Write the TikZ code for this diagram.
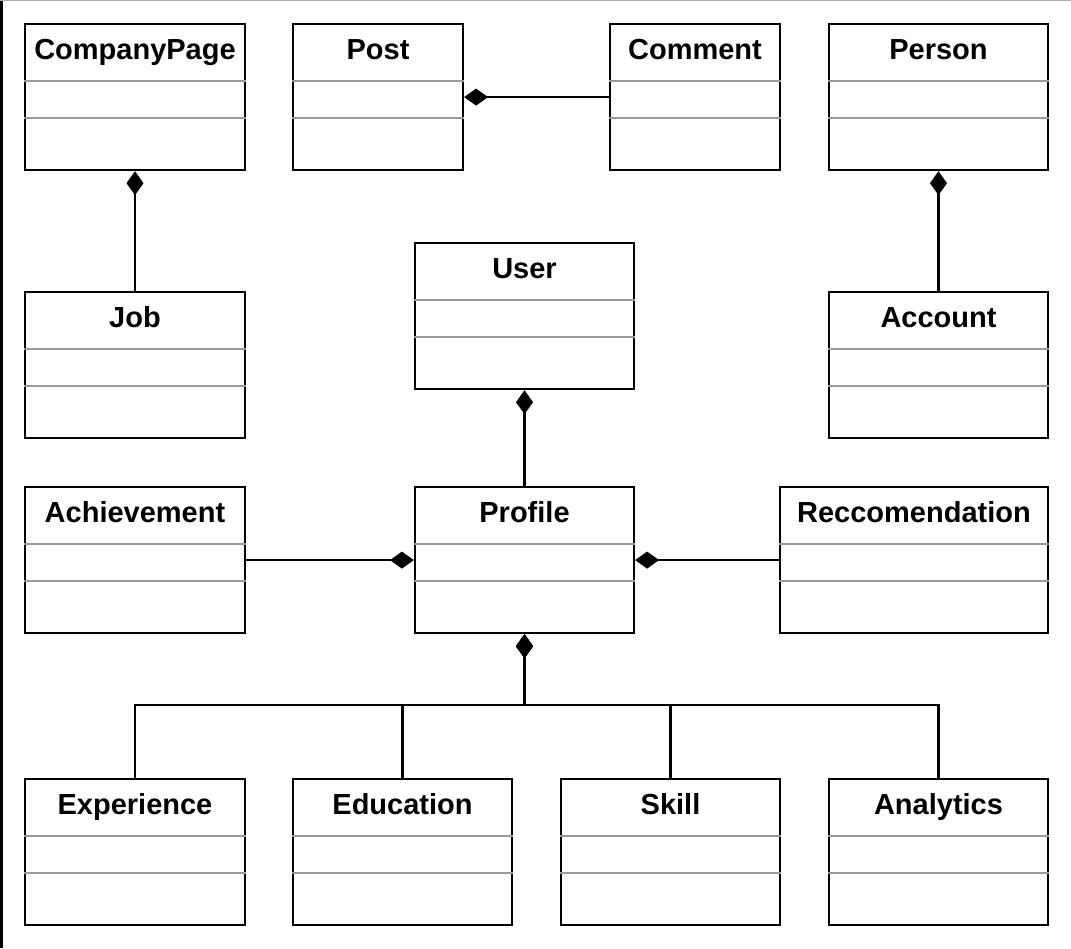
\documentclass[tikz,border=0pt]{standalone}
\usepackage{fontspec}
\setmainfont{Liberation Sans}
\usepackage{tikz}
\usetikzlibrary{arrows.meta}
\usetikzlibrary{calc}
\usetikzlibrary{positioning}

\tikzset{
  classbox/.style={draw, line width=1.1pt, fill=white, inner sep=0pt,
    minimum height=73pt, anchor=north},
  classtitle/.style={font=\fontsize{14.5}{17}\selectfont\bfseries, inner sep=0pt, anchor=base},
  compline/.style={draw=gray!80, line width=1pt},
  comp/.style={line width=1.1pt, {Diamond[length=12pt, width=8.5pt]}-{}},
}

\begin{document}
\begin{tikzpicture}[x=0.5pt, y=-0.5pt]
    \useasboundingbox (0,0) rectangle (1071,948);
    % frame edges
    \draw [line width=1.5pt] (1.5,0) -- (1.5,948);
    \draw [gray!60, line width=0.5pt] (0,0.5) -- (1071,0.5);

    % classes
    \foreach \n/\t/\cx/\top/\w in {
        companypage/CompanyPage/135/23/220,
        post/Post/378/23/170,
        comment/Comment/695/23/170,
        person/Person/938.5/23/219,
        job/Job/135/291/220,
        user/User/524.5/242/219,
        account/Account/938.5/291/219,
        achievement/Achievement/135/486/220,
        profile/Profile/524.5/486/219,
        reccomendation/Reccomendation/914/486/268,
        experience/Experience/135/778/220,
        education/Education/402.5/778/219,
        skill/Skill/670.5/778/219,
        analytics/Analytics/938.5/778/219} {
      \node [classbox, minimum width=\w*0.5pt] (\n) at (\cx,\top) {};
      \draw [compline] ([yshift=-29pt]\n.north west) -- ([yshift=-29pt]\n.north east);
      \draw [compline] ([yshift=-47.5pt]\n.north west) -- ([yshift=-47.5pt]\n.north east);
      \node [classtitle] (\n-title) at ([yshift=-18pt]\n.north) {\t};
    }

    % compositions
    \draw [comp] (companypage.south) -- (job.north);
    \draw [comp] (post.east) -- (comment.west);
    \draw [comp] (person.south) -- (account.north);
    \draw [comp] (user.south) -- (profile.north);
    \draw [comp] (profile.west) -- (achievement.east);
    \draw [comp] (profile.east) -- (reccomendation.west);
    \coordinate (bus) at (524.5,705);
    \foreach \n in {experience, education, skill, analytics} {
      \draw [comp] (profile.south) -- (bus) -| (\n.north);
    }
    \draw [line width=1.6pt] ([yshift=-12pt]profile.south) -- (bus);

\end{tikzpicture}
\end{document}
